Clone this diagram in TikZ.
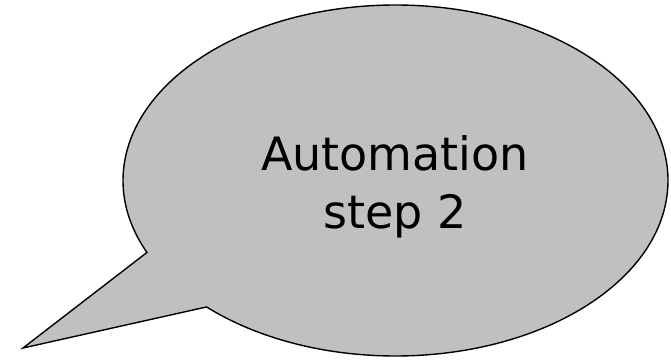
\documentclass[tikz,border=0pt]{standalone}
\usepackage{fontspec}
\setmainfont{DejaVu Sans}
\usepackage{tikz}

\definecolor{bubblegray}{RGB}{192,192,192}

\begin{document}
\begin{tikzpicture}[x=1pt, y=1pt,
	bubble/.style={draw=black, line width=1.4pt, fill=bubblegray, line join=miter},
	bubbletext/.style={font=\fontsize{46}{58}\selectfont, align=center, inner sep=0pt}]
	\useasboundingbox (0,0) rectangle (671,359);

	\coordinate (c) at (395.5,178.5);
	\coordinate (tip) at (23,11);

	\draw[bubble] (c) ++(226.1:272.5 and 175.5)
		arc[start angle=226.1, end angle=564.2, x radius=272.5, y radius=175.5]
		-- (tip) -- cycle;

	\node[bubbletext] (label) at (395,172) {Automation\\step 2};
\end{tikzpicture}
\end{document}
